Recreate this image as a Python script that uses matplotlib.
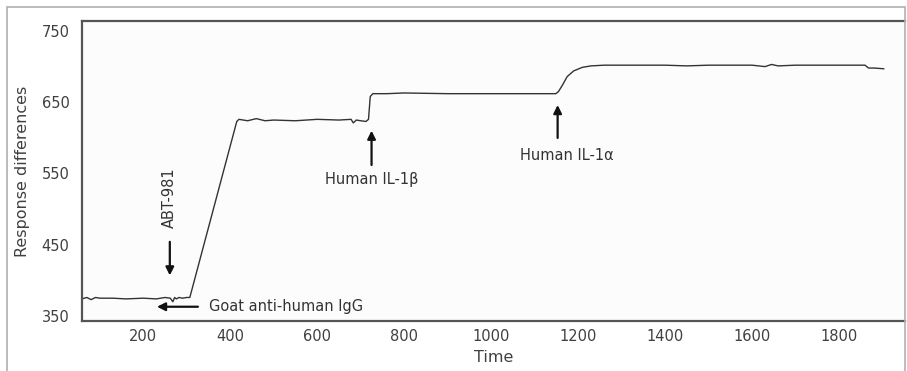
import matplotlib.pyplot as plt
from matplotlib.patches import Rectangle

# Sensorgram
time = [59, 70, 80, 90, 100, 130, 160, 200, 230, 250, 262, 268, 272, 276, 282, 290, 300, 307,
        415, 420, 440, 460, 480, 500, 550, 600, 650, 678, 683, 690, 700, 712, 718, 722, 728,
        760, 800, 900, 1000, 1100, 1149, 1155, 1165, 1175, 1190, 1210, 1230, 1260, 1300,
        1400, 1450, 1500, 1600, 1630, 1645, 1660, 1700, 1800, 1860, 1868, 1880, 1903]
response = [374, 376, 373, 376, 375, 375, 374, 375, 374, 376, 375, 370, 376, 374, 376, 375, 376, 376,
            623, 626, 624, 627, 624, 625, 624, 626, 625, 626, 621, 625, 624, 623, 626, 658, 662,
            662, 663, 662, 662, 662, 662, 665, 675, 686, 694, 699, 701, 702, 702,
            702, 701, 702, 702, 700, 703, 701, 702, 702, 702, 698, 698, 697]

x_ticks = [200, 400, 600, 800, 1000, 1200, 1400, 1600, 1800]
y_ticks = [350, 450, 550, 650, 750]

fig = plt.figure(figsize=(9.07, 3.71), dpi=100)
fig.patch.set_facecolor('white')
fig.patches.append(Rectangle((0.0077, -0.1), 0.99, 1.081, transform=fig.transFigure,
                             fill=False, edgecolor='#b0b0b0', linewidth=1.2))

ax = fig.add_axes([0.0904, 0.1348, 0.9074, 0.8086])
ax.set_facecolor('#fcfcfc')
ax.plot(time, response, color='#333333', linewidth=1.0)

ax.set_xlim(59, 1952)
ax.set_ylim(343, 764)
ax.set_xticks(x_ticks)
ax.set_yticks(y_ticks)
ax.tick_params(length=0, labelsize=10.5, labelcolor='#404040')
ax.tick_params(axis='y', pad=9)
ax.tick_params(axis='x', pad=6)
for side in ['left', 'bottom', 'top']:
    ax.spines[side].set_color('#555555')
    ax.spines[side].set_linewidth(1.6)
ax.spines['right'].set_visible(False)

ax.set_xlabel('Time', fontsize=11.5, color='#404040', labelpad=4)
ax.set_ylabel('Response differences', fontsize=11.5, color='#404040', labelpad=8)

arrow = dict(arrowstyle='-|>', color='#111111', lw=1.6, mutation_scale=12)
txt = dict(fontsize=10.5, color='#333333')

# ABT-981
ax.annotate('', xy=(261, 403), xytext=(261, 458), arrowprops=arrow)
ax.text(261, 516, 'ABT-981', rotation=90, ha='center', va='center', **txt)

# Goat anti-human IgG
ax.annotate('', xy=(225, 363), xytext=(332, 363), arrowprops=arrow)
ax.text(352, 363, 'Goat anti-human IgG', ha='left', va='center', **txt)

# Human IL-1beta
ax.annotate('', xy=(725, 614), xytext=(725, 558), arrowprops=arrow)
ax.text(725, 542, 'Human IL-1β', ha='center', va='center', **txt)

# Human IL-1alpha
ax.annotate('', xy=(1153, 650), xytext=(1153, 596), arrowprops=arrow)
ax.text(1175, 575, 'Human IL-1α', ha='center', va='center', **txt)

fig.savefig('out.png', dpi=100)
